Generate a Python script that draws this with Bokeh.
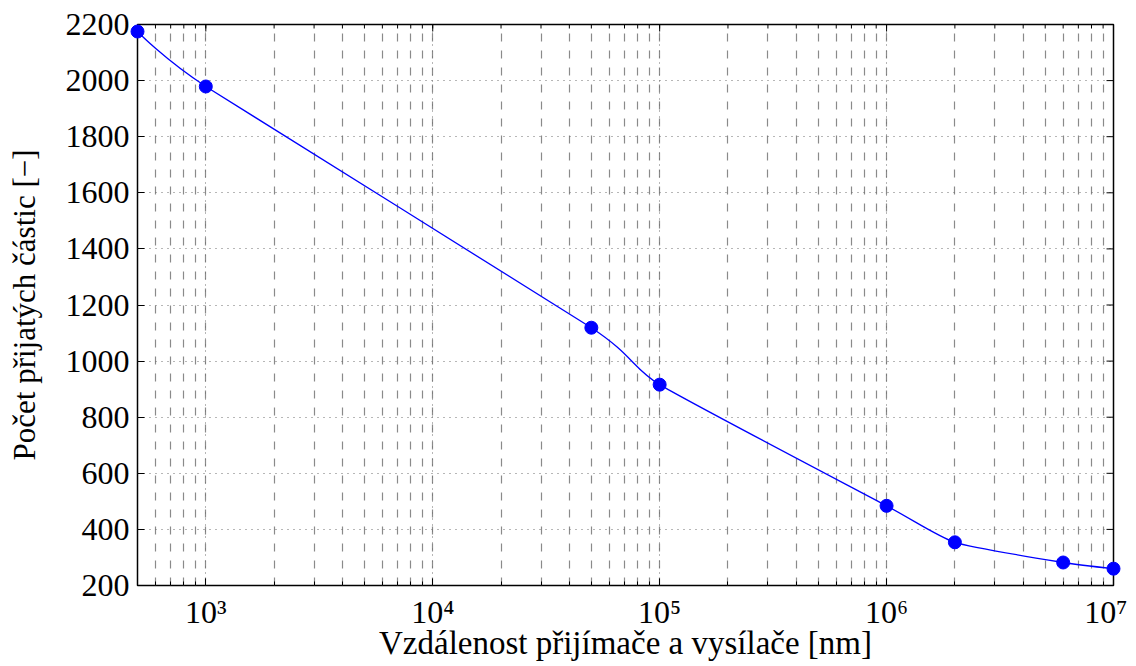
import numpy as np
from bokeh.plotting import figure
from bokeh.models import Range1d, FixedTicker, CustomJSTickFormatter, ColumnDataSource
from bokeh.embed import file_html
from bokeh.resources import INLINE

# ---- data ----
distance_nm = [500, 1000, 50000, 100000, 1000000, 2000000, 6000000, 10000000]
received = [2175, 1979, 1119, 916, 484, 354, 282, 260]

x_major = [1e3, 1e4, 1e5, 1e6, 1e7]
y_major = [200, 400, 600, 800, 1000, 1200, 1400, 1600, 1800, 2000, 2200]
X_MIN, X_MAX = 500, 1e7
Y_MIN, Y_MAX = 200, 2200

FONT = "Liberation Serif"
BLUE = "#0000ff"

x_minor = [m * 10.0 ** k for k in range(2, 7) for m in range(1, 10) if m * 10.0 ** k >= X_MIN]

p = figure(x_axis_type="log", frame_width=976, frame_height=561,
           x_range=Range1d(X_MIN, X_MAX), y_range=Range1d(Y_MIN, Y_MAX),
           output_backend="svg", toolbar_location=None,
           min_border_left=137, min_border_right=14, min_border_top=24, min_border_bottom=0)
p.outline_line_color = "black"
p.outline_line_width = 1.5
p.background_fill_color = "white"
p.border_fill_color = "white"

xt = FixedTicker(ticks=x_major, minor_ticks=x_minor)
yt = FixedTicker(ticks=y_major, minor_ticks=[])

sup = CustomJSTickFormatter(code="""
const e = Math.round(Math.log10(tick));
const s = '⁰¹²³⁴⁵⁶⁷⁸⁹';
return '10' + String(e).split('').map(d => s[+d]).join('');
""")

xa = p.xaxis[0]
xa.ticker = xt
xa.formatter = sup
ya = p.yaxis[0]
ya.ticker = yt

for ax in (xa, ya):
    ax.major_label_text_font = FONT
    ax.major_label_text_font_size = "32px"
    ax.major_label_text_color = "black"
    ax.axis_label_text_font = FONT
    ax.axis_label_text_font_size = "32px"
    ax.axis_label_text_font_style = "normal"
    ax.axis_label_text_color = "black"
    ax.axis_line_color = None
    ax.major_tick_in = 7
    ax.major_tick_out = 0
    ax.minor_tick_in = 4
    ax.minor_tick_out = 0
    ax.major_tick_line_color = "black"
    ax.minor_tick_line_color = "black"

xa.axis_label = "Vzdálenost přijímače a vysílače [nm]"
xa.axis_label_text_font_size = "33px"
xa.major_label_standoff = 8
xa.axis_label_standoff = -8
ya.axis_label = "Počet přijatých částic [−]"
ya.axis_label_text_font_size = "31px"
ya.major_label_standoff = 8
ya.axis_label_standoff = 21

# grids
p.xgrid.ticker = xt
p.xgrid.grid_line_color = "#6f6f6f"
p.xgrid.grid_line_dash = "1 5"
p.xgrid.grid_line_width = 1
p.xgrid.minor_grid_line_color = "#8a8a8a"
p.xgrid.minor_grid_line_dash = "8 9"
p.xgrid.minor_grid_line_width = 1.2
p.ygrid.ticker = yt
p.ygrid.grid_line_color = "#6f6f6f"
p.ygrid.grid_line_dash = "1 5"
p.ygrid.grid_line_width = 1

# tick marks on the top and right edges (half of each dash is clipped by the frame)
p.scatter(x=x_major, y=[Y_MAX] * len(x_major), marker="dash", angle=np.pi / 2,
          size=14, line_color="black", line_width=1)
p.scatter(x=x_minor, y=[Y_MAX] * len(x_minor), marker="dash", angle=np.pi / 2,
          size=8, line_color="black", line_width=1)
p.scatter(x=[X_MAX] * len(y_major), y=y_major, marker="dash",
          size=14, line_color="black", line_width=1)

# smooth curve (TikZ/pgfplots-like smoothing) computed in log-x screen space
lx = np.log10(np.array(distance_nm, dtype=float))
yy = np.array(received, dtype=float)
n = len(lx)
t = 0.55 / 6.0
x0, y0, x1, y1, cx0, cy0, cx1, cy1 = [], [], [], [], [], [], [], []
for i in range(n - 1):
    px, py = lx[i], yy[i]
    qx, qy = lx[i + 1], yy[i + 1]
    if i == 0:
        ax_, ay_ = px, py
    else:
        ax_, ay_ = px + t * (lx[i + 1] - lx[i - 1]), py + t * (yy[i + 1] - yy[i - 1])
    if i == n - 2:
        bx_, by_ = qx, qy
    else:
        bx_, by_ = qx - t * (lx[i + 2] - lx[i]), qy - t * (yy[i + 2] - yy[i])
    x0.append(10 ** px); y0.append(py)
    x1.append(10 ** qx); y1.append(qy)
    cx0.append(10 ** ax_); cy0.append(ay_)
    cx1.append(10 ** bx_); cy1.append(by_)

bsrc = ColumnDataSource(dict(x0=x0, y0=y0, x1=x1, y1=y1, cx0=cx0, cy0=cy0, cx1=cx1, cy1=cy1))
p.bezier(x0="x0", y0="y0", x1="x1", y1="y1", cx0="cx0", cy0="cy0", cx1="cx1", cy1="cy1",
         source=bsrc, line_color=BLUE, line_width=1.3)

src = ColumnDataSource(dict(x=distance_nm, y=received))
p.scatter("x", "y", source=src, size=13, fill_color=BLUE, line_color=BLUE, level="overlay")

open("out.html", "w").write(file_html(p, INLINE))
